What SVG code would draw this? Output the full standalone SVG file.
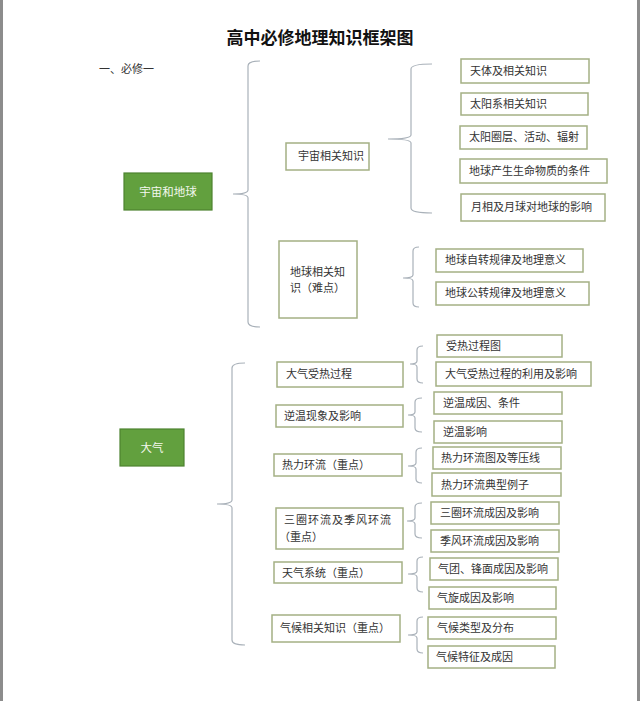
<svg xmlns="http://www.w3.org/2000/svg" width="640" height="701" viewBox="0 0 640 701">
<style>
.bx{fill:#ffffff;stroke:#a4b084;stroke-width:1.5}
.gb{fill:#62a03e;stroke:#4d8330;stroke-width:1.2}
.t{font-family:"Noto Sans CJK SC","Noto Sans",sans-serif;font-size:11px;fill:#333333}
.tw{font-family:"Noto Sans CJK SC","Noto Sans",sans-serif;font-size:11.5px;fill:#f4f8ef;text-anchor:middle}
.br{fill:none;stroke:#a9b1b9;stroke-width:1.2}
</style>
<rect x="0" y="0" width="640" height="701" fill="#ffffff"/>
<rect x="0" y="0" width="3" height="701" fill="#8c8c8c"/>
<rect x="637" y="0" width="3" height="701" fill="#8c8c8c"/>
<text x="320" y="44" text-anchor="middle" font-family="'Noto Sans CJK SC','Noto Sans',sans-serif" font-size="17" font-weight="bold" fill="#111111">高中必修地理知识框架图</text>
<text class="t" x="99" y="73">一、必修一</text>
<g id="connectors">
<path class="br" d="M260 61 Q248 61 248 66 L248 190 Q248 194 233 194 Q248 194 248 198 L248 322 Q248 327 260 327"/>
<path class="br" d="M432 64 Q411 64 411 69 L411 135 Q411 139 388 139 Q411 139 411 143 L411 208 Q411 213 432 213"/>
<path class="br" d="M419 247 Q413 247 413 251 L413 275 Q413 278 403 278 Q413 278 413 281 L413 303 Q413 307 419 307"/>
<path class="br" d="M245 363 Q232 363 232 368 L232 500 Q232 504 217 504 Q232 504 232 508 L232 640 Q232 645 245 645"/>
<path class="br" d="M423 346 Q417 346 417 350 L417 361 Q417 364 410 364 Q417 364 417 367 L417 379 Q417 383 423 383"/>
<path class="br" d="M422 398 Q415 398 415 402 L415 412 Q415 415 408 415 Q415 415 415 418 L415 428 Q415 432 422 432"/>
<path class="br" d="M422 448 Q416 448 416 452 L416 463 Q416 466 408 466 Q416 466 416 469 L416 479 Q416 483 422 483"/>
<path class="br" d="M422 503 Q415 503 415 507 L415 518 Q415 521 407 521 Q415 521 415 524 L415 534 Q415 538 422 538"/>
<path class="br" d="M423 557 Q417 557 417 561 L417 571 Q417 574 408 574 Q417 574 417 577 L417 588 Q417 592 423 592"/>
<path class="br" d="M423 617 Q417 617 417 621 L417 632 Q417 635 408 635 Q417 635 417 638 L417 649 Q417 653 423 653"/>
</g>
<g id="n-yuzhou-diqiu"><rect class="gb" x="124" y="173" width="88" height="37"/><text class="tw" x="168" y="196">宇宙和地球</text></g>
<g id="n-daqi"><rect class="gb" x="120" y="429" width="64" height="37"/><text class="tw" x="152" y="452">大气</text></g>
<g id="n-yuzhou-xg"><rect class="bx" x="286" y="143" width="83" height="27"/><text class="t" x="298" y="160">宇宙相关知识</text></g>
<g id="n-diqiu-xg"><rect class="bx" x="279" y="241" width="78" height="77"/><text class="t" x="290" y="276">地球相关知</text><text class="t" x="290" y="292">识（难点）</text></g>
<g id="n-shoure"><rect class="bx" x="277" y="362" width="126" height="25"/><text class="t" x="286" y="378">大气受热过程</text></g>
<g id="n-niwen"><rect class="bx" x="276" y="405" width="127" height="22"/><text class="t" x="284" y="420">逆温现象及影响</text></g>
<g id="n-reli"><rect class="bx" x="274" y="454" width="128" height="22"/><text class="t" x="282" y="469">热力环流（重点）</text></g>
<g id="n-sanquan"><rect class="bx" x="276" y="508" width="127" height="41"/><text class="t" x="284" y="524" letter-spacing="1">三圈环流及季风环流</text><text class="t" x="279" y="541">（重点）</text></g>
<g id="n-tianqi"><rect class="bx" x="274" y="562" width="128" height="21"/><text class="t" x="282" y="577">天气系统（重点）</text></g>
<g id="n-qihou"><rect class="bx" x="272" y="615" width="128" height="27"/><text class="t" x="280" y="632">气候相关知识（重点）</text></g>
<g id="n-l3-1"><rect class="bx" x="461" y="59" width="128" height="24"/><text class="t" x="470" y="75">天体及相关知识</text></g>
<g id="n-l3-2"><rect class="bx" x="461" y="93" width="127" height="22"/><text class="t" x="470" y="108">太阳系相关知识</text></g>
<g id="n-l3-3"><rect class="bx" x="460" y="126" width="127" height="23"/><text class="t" x="469" y="141">太阳圈层、活动、辐射</text></g>
<g id="n-l3-4"><rect class="bx" x="460" y="159" width="147" height="24"/><text class="t" x="469" y="175">地球产生生命物质的条件</text></g>
<g id="n-l3-5"><rect class="bx" x="461" y="194" width="144" height="27"/><text class="t" x="471" y="211">月相及月球对地球的影响</text></g>
<g id="n-l3-6"><rect class="bx" x="436" y="249" width="147" height="23"/><text class="t" x="445" y="264">地球自转规律及地理意义</text></g>
<g id="n-l3-7"><rect class="bx" x="436" y="282" width="153" height="23"/><text class="t" x="445" y="297">地球公转规律及地理意义</text></g>
<g id="n-l3-8"><rect class="bx" x="437" y="335" width="125" height="22"/><text class="t" x="446" y="350">受热过程图</text></g>
<g id="n-l3-9"><rect class="bx" x="436" y="362" width="155" height="24"/><text class="t" x="445" y="378">大气受热过程的利用及影响</text></g>
<g id="n-l3-10"><rect class="bx" x="434" y="392" width="128" height="22"/><text class="t" x="443" y="407">逆温成因、条件</text></g>
<g id="n-l3-11"><rect class="bx" x="434" y="421" width="128" height="22"/><text class="t" x="443" y="436">逆温影响</text></g>
<g id="n-l3-12"><rect class="bx" x="433" y="447" width="128" height="22"/><text class="t" x="441" y="462">热力环流图及等压线</text></g>
<g id="n-l3-13"><rect class="bx" x="432" y="473" width="129" height="23"/><text class="t" x="441" y="489">热力环流典型例子</text></g>
<g id="n-l3-14"><rect class="bx" x="431" y="502" width="128" height="22"/><text class="t" x="440" y="517">三圈环流成因及影响</text></g>
<g id="n-l3-15"><rect class="bx" x="431" y="530" width="128" height="22"/><text class="t" x="440" y="545">季风环流成因及影响</text></g>
<g id="n-l3-16"><rect class="bx" x="430" y="558" width="128" height="22"/><text class="t" x="438" y="573">气团、锋面成因及影响</text></g>
<g id="n-l3-17"><rect class="bx" x="429" y="587" width="127" height="22"/><text class="t" x="437" y="602">气旋成因及影响</text></g>
<g id="n-l3-18"><rect class="bx" x="428" y="617" width="128" height="22"/><text class="t" x="437" y="632">气候类型及分布</text></g>
<g id="n-l3-19"><rect class="bx" x="428" y="646" width="127" height="22"/><text class="t" x="436" y="661">气候特征及成因</text></g>
</svg>
